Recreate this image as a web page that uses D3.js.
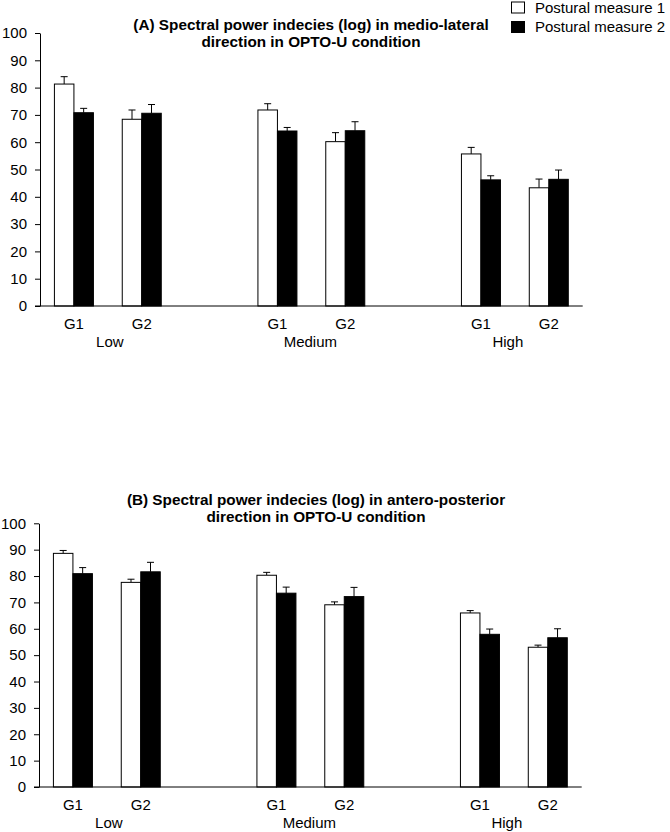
<!DOCTYPE html>
<html>
<head>
<meta charset="utf-8">
<script src="https://cdn.jsdelivr.net/npm/d3@7"></script>
<style>
  body { margin: 0; background: #fff; }
  svg { display: block; font-family: "Liberation Sans", Arial, sans-serif; }
  .axis text { font-size: 15px; fill: #000; }
  .axis path, .axis line { stroke: #000; }
</style>
</head>
<body>
<svg id="chart" width="670" height="832"></svg>
<script>
// Global data: order is Low G1, Low G2, Medium G1, Medium G2, High G1, High G2
var groups = ["Low", "Medium", "High"];
var subgroups = ["G1", "G2"];
var seriesNames = ["Postural measure 1", "Postural measure 2"];
var yTicks = [0, 10, 20, 30, 40, 50, 60, 70, 80, 90, 100];

var titleA = ["(A) Spectral power indecies (log) in medio-lateral", "direction in OPTO-U condition"];
var mlMeasure1 = [81.3, 68.4, 71.8, 60.2, 55.7, 43.3];
var mlMeasure1Err = [2.7, 3.4, 2.3, 3.3, 2.4, 3.2];
var mlMeasure2 = [70.8, 70.6, 64.1, 64.2, 46.2, 46.4];
var mlMeasure2Err = [1.6, 3.2, 1.3, 3.3, 1.5, 3.4];

var titleB = ["(B) Spectral power indecies (log) in antero-posterior", "direction in OPTO-U condition"];
var apMeasure1 = [88.6, 77.6, 80.3, 69.1, 66.0, 53.0];
var apMeasure1Err = [1.1, 1.2, 1.1, 1.1, 0.9, 0.8];
var apMeasure2 = [80.9, 81.6, 73.5, 72.2, 57.9, 56.6];
var apMeasure2Err = [2.3, 3.6, 2.3, 3.5, 2.0, 3.4];

var svg = d3.select("#chart");

/**
 * Draw one panel of grouped bars with error bars
 */
function drawPanel(cfg) {
    var g = svg.append("g");

    // slots: G1, G2, gap, G1, G2, gap, G1, G2
    var slots = [];
    groups.forEach(function (grp, gi) {
        subgroups.forEach(function (s) { slots.push(grp + "|" + s); });
        if (gi < groups.length - 1) slots.push("gap" + gi);
    });

    var xScale = d3.scaleBand()
        .domain(slots)
        .range([cfg.left, cfg.right]);

    var pairWidth = xScale.bandwidth() * 0.575;
    var inner = d3.scaleBand()
        .domain([0, 1])
        .range([-pairWidth / 2, pairWidth / 2]);

    var yScale = d3.scaleLinear()
        .domain([0, 100])
        .range([cfg.bottom, cfg.top]);

    // rows of data
    var rows = [];
    groups.forEach(function (grp, gi) {
        subgroups.forEach(function (s, si) {
            var k = gi * 2 + si;
            rows.push({ key: grp + "|" + s, sub: s, series: 0, v: cfg.m1[k], e: cfg.m1e[k] });
            rows.push({ key: grp + "|" + s, sub: s, series: 1, v: cfg.m2[k], e: cfg.m2e[k] });
        });
    });

    function cx(d) {
        return xScale(d.key) + xScale.bandwidth() / 2 + inner(d.series) + inner.bandwidth() / 2;
    }

    // error bars (drawn first, bar covers the lower part)
    var err = g.append("g").selectAll("g")
        .data(rows)
        .enter()
        .append("g");
    err.append("line")
        .attr("x1", cx)
        .attr("x2", cx)
        .attr("y1", function (d) { return yScale(d.v); })
        .attr("y2", function (d) { return yScale(d.v + d.e); })
        .attr("stroke", "#000");
    err.append("line")
        .attr("x1", function (d) { return cx(d) - 3.5; })
        .attr("x2", function (d) { return cx(d) + 3.5; })
        .attr("y1", function (d) { return yScale(d.v + d.e); })
        .attr("y2", function (d) { return yScale(d.v + d.e); })
        .attr("stroke", "#000");

    g.append("g").selectAll("rect")
        .data(rows)
        .enter()
        .append("rect")
        .attr("x", function (d) { return xScale(d.key) + xScale.bandwidth() / 2 + inner(d.series); })
        .attr("width", inner.bandwidth())
        .attr("y", function (d) { return yScale(d.v); })
        .attr("height", function (d) { return yScale(0) - yScale(d.v); })
        .attr("fill", function (d) { return d.series === 0 ? "#fff" : "#000"; })
        .attr("stroke", "#000")
        .attr("stroke-width", 1);

    // y axis
    var yAxis = d3.axisLeft(yScale)
        .tickValues(yTicks)
        .tickSize(5)
        .tickSizeOuter(0)
        .tickPadding(8);
    g.append("g")
        .attr("class", "axis")
        .attr("transform", "translate(" + cfg.left + ",0)")
        .call(yAxis)
        .call(function (a) { a.selectAll("text").attr("font-family", null); });

    // x axis line
    g.append("line")
        .attr("x1", cfg.left - 5)
        .attr("x2", cfg.right)
        .attr("y1", yScale(0))
        .attr("y2", yScale(0))
        .attr("stroke", "#000");

    // subgroup labels
    g.append("g").selectAll("text")
        .data(slots.filter(function (s) { return s.indexOf("gap") !== 0; }))
        .enter()
        .append("text")
        .attr("x", function (d) { return xScale(d) + xScale.bandwidth() / 2; })
        .attr("y", yScale(0) + 23)
        .attr("text-anchor", "middle")
        .attr("font-size", 15)
        .text(function (d) { return d.split("|")[1]; });

    // group labels
    var nudge = [2, -1, -7];
    g.append("g").selectAll("text")
        .data(groups)
        .enter()
        .append("text")
        .attr("x", function (d, i) {
            return (xScale(d + "|G1") + xScale(d + "|G2") + xScale.bandwidth()) / 2 + nudge[i];
        })
        .attr("y", yScale(0) + 41)
        .attr("text-anchor", "middle")
        .attr("font-size", 15)
        .text(function (d) { return d; });

    // title
    g.append("text")
        .attr("x", cfg.titleX)
        .attr("y", cfg.titleY)
        .attr("text-anchor", "middle")
        .attr("font-size", 15.3)
        .attr("font-weight", "bold")
        .selectAll("tspan")
        .data(cfg.title)
        .enter()
        .append("tspan")
        .attr("x", cfg.titleX)
        .attr("dy", function (d, i) { return i === 0 ? 0 : 17; })
        .text(function (d) { return d; });
}

drawPanel({
    left: 40, right: 582.7, top: 33, bottom: 306,
    m1: mlMeasure1, m1e: mlMeasure1Err, m2: mlMeasure2, m2e: mlMeasure2Err,
    title: titleA, titleX: 311, titleY: 29.5
});

drawPanel({
    left: 39, right: 581.7, top: 523.3, bottom: 787,
    m1: apMeasure1, m1e: apMeasure1Err, m2: apMeasure2, m2e: apMeasure2Err,
    title: titleB, titleX: 316, titleY: 505
});

// legend
var legend = svg.append("g").selectAll("g")
    .data(seriesNames)
    .enter()
    .append("g")
    .attr("transform", function (d, i) { return "translate(511.5," + (2 + i * 19.5) + ")"; });
legend.append("rect")
    .attr("width", 13)
    .attr("height", 11)
    .attr("fill", function (d, i) { return i === 0 ? "#fff" : "#000"; })
    .attr("stroke", "#000");
legend.append("text")
    .attr("x", 23.5)
    .attr("y", 10.5)
    .attr("font-size", 15)
    .text(function (d) { return d; });
</script>
</body>
</html>
